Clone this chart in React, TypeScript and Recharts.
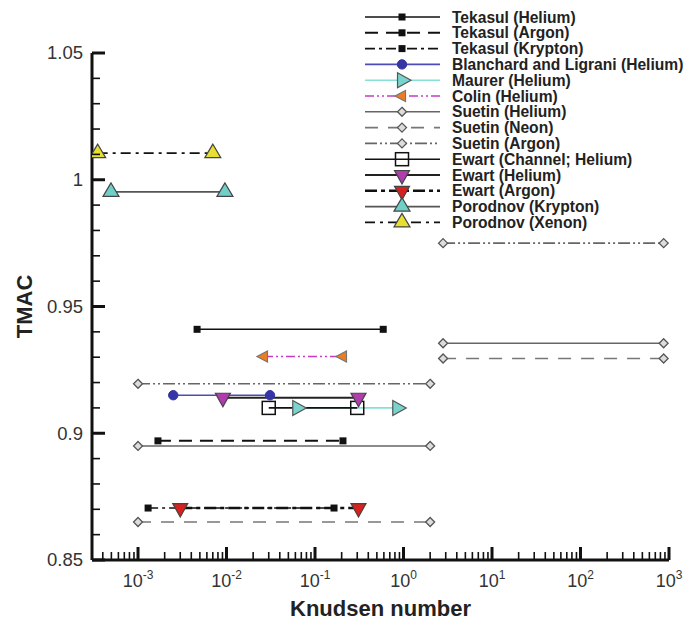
import { LineChart, Line, XAxis, YAxis } from 'recharts'

// Knudsen number / TMAC pairs (null = gap between segments)
const tekasulHelium = [[4.65e-3, 0.941], [0.59, 0.941]]
const tekasulArgon = [[1.68e-3, 0.897], [0.207, 0.897]]
const tekasulKrypton = [[1.3e-3, 0.8705], [0.164, 0.8705]]
const blanchardHelium = [[2.5e-3, 0.915], [0.031, 0.915]]
const maurerHelium = [[0.063, 0.91], [0.85, 0.91]]
const colinHelium = [[0.0265, 0.9303], [0.207, 0.9303]]
const suetinHelium = [[1e-3, 0.895], [2, 0.895], [2.4, null], [2.8, 0.9355], [870, 0.9355]]
const suetinNeon = [[1e-3, 0.865], [2, 0.865], [2.4, null], [2.8, 0.9295], [870, 0.9295]]
const suetinArgon = [[1e-3, 0.9195], [2, 0.9195], [2.4, null], [2.8, 0.975], [870, 0.975]]
const ewartChannelHelium = [[0.03, 0.91], [0.3, 0.91]]
const ewartHelium = [[9.1e-3, 0.914], [0.31, 0.914]]
const ewartArgon = [[3.0e-3, 0.8705], [0.31, 0.8705]]
const porodnovKrypton = [[4.95e-4, 0.9952], [9.6e-3, 0.9952]]
const porodnovXenon = [[3.5e-4, 1.0105], [7.0e-3, 1.0105]]

const decades = [1e-4, 1e-3, 1e-2, 1e-1, 1, 10, 100, 1000]
const yTicks = [0.85, 0.86, 0.87, 0.88, 0.89, 0.9, 0.91, 0.92, 0.93, 0.94, 0.95, 0.96, 0.97, 0.98, 0.99, 1, 1.01, 1.02, 1.03, 1.04, 1.05]

const xMin = 3.02e-4
const xMax = 1000
const xTicks = decades
  .flatMap((d) => [1, 2, 3, 4, 5, 6, 7, 8, 9].map((k) => d * k))
  .filter((v) => v >= xMin && v <= xMax * 1.0001)

const FONT = '"Liberation Sans", Arial, sans-serif'

type Kind = 'square' | 'circle' | 'triRight' | 'triLeft' | 'diamond' | 'openSquare' | 'triDown' | 'triUp'

interface Series {
  name: string
  points: (number | null)[][]
  stroke: string
  width: number
  dash?: string
  marker: Kind
  fill: string
  edge: string
}

const series: Series[] = [
  { name: 'Tekasul (Helium)', points: tekasulHelium, stroke: '#111', width: 1.6, marker: 'square', fill: '#111', edge: '#111' },
  { name: 'Tekasul (Argon)', points: tekasulArgon, stroke: '#111', width: 2, dash: '13 8', marker: 'square', fill: '#111', edge: '#111' },
  { name: 'Tekasul (Krypton)', points: tekasulKrypton, stroke: '#111', width: 1.6, dash: '10 4 3 4', marker: 'square', fill: '#111', edge: '#111' },
  { name: 'Blanchard and Ligrani (Helium)', points: blanchardHelium, stroke: '#4c4cb8', width: 1.6, marker: 'circle', fill: '#3535a5', edge: '#3535a5' },
  { name: 'Maurer (Helium)', points: maurerHelium, stroke: '#86e0d8', width: 1.6, marker: 'triRight', fill: '#78d4cc', edge: '#555' },
  { name: 'Colin (Helium)', points: colinHelium, stroke: '#c43cc4', width: 1.6, dash: '9 3 2 3 2 3', marker: 'triLeft', fill: '#f07c20', edge: '#777' },
  { name: 'Suetin (Helium)', points: suetinHelium, stroke: '#666', width: 1.6, marker: 'diamond', fill: '#ddd', edge: '#555' },
  { name: 'Suetin (Neon)', points: suetinNeon, stroke: '#777', width: 1.6, dash: '13 10', marker: 'diamond', fill: '#ddd', edge: '#555' },
  { name: 'Suetin (Argon)', points: suetinArgon, stroke: '#666', width: 1.6, dash: '12 3 2 3 2 3', marker: 'diamond', fill: '#ddd', edge: '#555' },
  { name: 'Ewart (Channel; Helium)', points: ewartChannelHelium, stroke: '#111', width: 1.6, marker: 'openSquare', fill: '#fff', edge: '#111' },
  { name: 'Ewart (Helium)', points: ewartHelium, stroke: '#222', width: 1.8, marker: 'triDown', fill: '#b03cb0', edge: '#444' },
  { name: 'Ewart (Argon)', points: ewartArgon, stroke: '#111', width: 2.4, dash: '12 4 4 4', marker: 'triDown', fill: '#d8201c', edge: '#444' },
  { name: 'Porodnov (Krypton)', points: porodnovKrypton, stroke: '#555', width: 1.8, marker: 'triUp', fill: '#70d0c8', edge: '#444' },
  { name: 'Porodnov (Xenon)', points: porodnovXenon, stroke: '#111', width: 1.8, dash: '10 5 3 5', marker: 'triUp', fill: '#e8e030', edge: '#444' },
]

function Marker({ kind, cx, cy, fill, edge }: { kind: Kind; cx: number; cy: number; fill: string; edge: string }) {
  switch (kind) {
    case 'square':
      return <rect x={cx - 3.5} y={cy - 3.5} width={7} height={7} fill={fill} />
    case 'circle':
      return <circle cx={cx} cy={cy} r={4.7} fill={fill} stroke={edge} />
    case 'diamond':
      return <polygon points={`${cx},${cy - 4.5} ${cx + 4.5},${cy} ${cx},${cy + 4.5} ${cx - 4.5},${cy}`} fill={fill} stroke={edge} strokeWidth={1.3} />
    case 'openSquare':
      return <rect x={cx - 6.5} y={cy - 6.5} width={13} height={13} fill="none" stroke={edge} strokeWidth={1.5} />
    case 'triRight':
      return <polygon points={`${cx + 9},${cy} ${cx - 4.5},${cy - 7.5} ${cx - 4.5},${cy + 7.5}`} fill={fill} stroke={edge} strokeWidth={1.2} />
    case 'triLeft':
      return <polygon points={`${cx - 7},${cy} ${cx + 3.5},${cy - 5.5} ${cx + 3.5},${cy + 5.5}`} fill={fill} stroke={edge} strokeWidth={1.2} />
    case 'triDown':
      return <polygon points={`${cx},${cy + 9} ${cx - 7.5},${cy - 4.5} ${cx + 7.5},${cy - 4.5}`} fill={fill} stroke={edge} strokeWidth={1.2} />
    case 'triUp':
      return <polygon points={`${cx},${cy - 9} ${cx - 8},${cy + 4.5} ${cx + 8},${cy + 4.5}`} fill={fill} stroke={edge} strokeWidth={1.2} />
  }
}

function XTick(props: any) {
  const { x, y, payload } = props
  const lg = Math.log10(payload.value)
  const e = Math.round(lg)
  const major = Math.abs(lg - e) < 1e-6
  return (
    <g>
      <line x1={x} x2={x} y1={y} y2={y - (major ? 13 : 8)} stroke="#111" strokeWidth={major ? 3 : 1.6} />
      {major && (
        <text x={x} y={y + 27} textAnchor="middle" fontFamily={FONT} fontSize={18} fill="#333">
          10<tspan dy={-8} fontSize={12}>{e}</tspan>
        </text>
      )}
    </g>
  )
}

function YTick(props: any) {
  const { x, y, payload } = props
  const v = payload.value
  const major = Math.abs(v * 20 - Math.round(v * 20)) < 1e-6
  return (
    <g>
      <line x1={x} x2={x + (major ? 13 : 8)} y1={y} y2={y} stroke="#111" strokeWidth={major ? 3 : 1.6} />
      {major && (
        <text x={x - 9} y={y} dy="0.35em" textAnchor="end" fontFamily={FONT} fontSize={18.5} fill="#333">
          {Number(v.toFixed(2)).toString()}
        </text>
      )}
    </g>
  )
}

function YTitle(props: any) {
  const { viewBox } = props
  const cx = 24
  const cy = viewBox.y + viewBox.height / 2
  return (
    <text x={cx} y={cy} dy="0.35em" transform={`rotate(-90 ${cx} ${cy})`} textAnchor="middle" fontFamily={FONT} fontSize={22} fontWeight="bold" fill="#222">
      TMAC
    </text>
  )
}

function XTitle(props: any) {
  const { viewBox } = props
  return (
    <text x={viewBox.x + viewBox.width / 2} y={616} textAnchor="middle" fontFamily={FONT} fontSize={22} fontWeight="bold" fill="#222">
      Knudsen number
    </text>
  )
}

function LegendBox() {
  return (
    <svg width={688} height={621} style={{ position: 'absolute', left: 0, top: 0, pointerEvents: 'none' }}>
      {series.map((s, i) => {
        const y = 17 + i * 15.8
        return (
          <g key={s.name}>
            <line x1={365} x2={440} y1={y} y2={y} stroke={s.stroke} strokeWidth={s.width} strokeDasharray={s.dash} />
            <Marker kind={s.marker} cx={402} cy={y} fill={s.fill} edge={s.edge} />
            <text x={452} y={y} dy="0.36em" fontFamily={FONT} fontSize={15.6} fontWeight="bold" fill="#222">
              {s.name}
            </text>
          </g>
        )
      })}
    </svg>
  )
}

export default function App() {
  return (
    <div style={{ position: 'absolute', left: 0, top: 0, width: 688, height: 621, background: '#fff' }}>
      <LineChart width={688} height={621} margin={{ top: 53, right: 19, left: 10, bottom: 0 }}>
        <XAxis
          type="number"
          dataKey="x"
          scale="log"
          domain={[xMin, xMax]}
          allowDataOverflow
          ticks={xTicks}
          interval={0}
          height={61}
          tickSize={0}
          tickMargin={0}
          tickLine={false}
          tick={XTick}
          axisLine={{ stroke: '#111', strokeWidth: 3 }}
          label={{ value: 'Knudsen number', content: XTitle }}
        />
        <YAxis
          type="number"
          domain={[0.85, 1.05]}
          allowDataOverflow
          ticks={yTicks}
          interval={0}
          width={82}
          tickSize={0}
          tickMargin={0}
          tickLine={false}
          tick={YTick}
          axisLine={{ stroke: '#111', strokeWidth: 3 }}
          label={{ value: 'TMAC', content: YTitle }}
        />
        {series.map((s) => (
          <Line
            key={s.name}
            name={s.name}
            data={s.points.map(([x, y]) => ({ x, y }))}
            dataKey="y"
            type="linear"
            stroke={s.stroke}
            strokeWidth={s.width}
            strokeDasharray={s.dash}
            connectNulls={false}
            isAnimationActive={false}
            activeDot={false}
            dot={(p: any) =>
              p.cy == null || p.payload.y == null ? (
                <g key={p.key ?? p.index} />
              ) : (
                <g key={p.key ?? p.index}>
                  <Marker kind={s.marker} cx={p.cx} cy={p.cy} fill={s.fill} edge={s.edge} />
                </g>
              )
            }
          />
        ))}
      </LineChart>
      <LegendBox />
    </div>
  )
}
